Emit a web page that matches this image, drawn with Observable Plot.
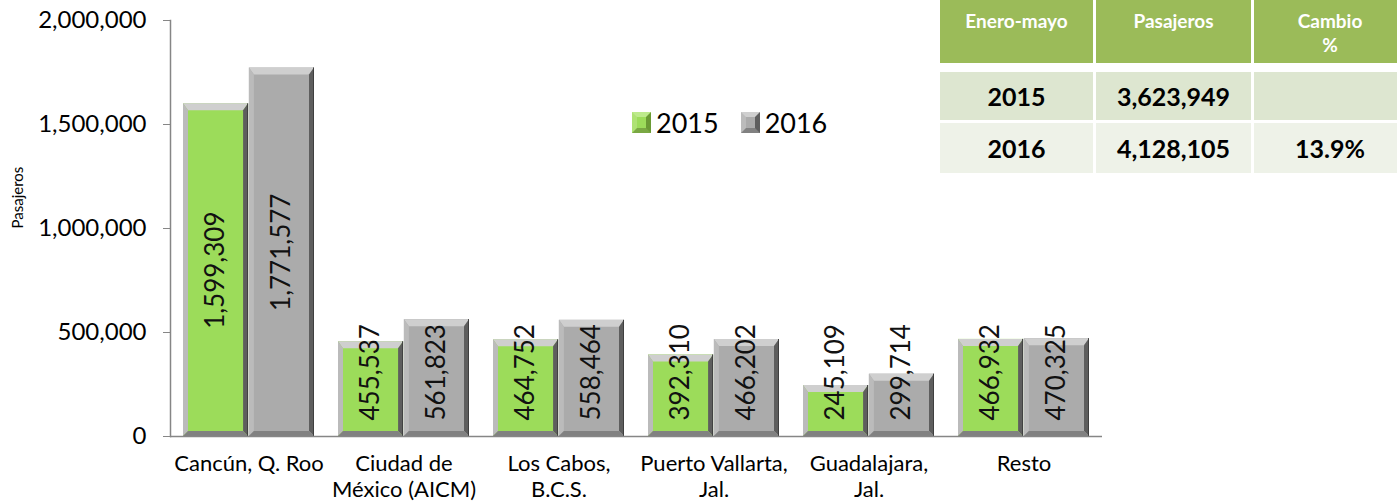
<!DOCTYPE html>
<html>
<head>
<meta charset="utf-8">
<script src="https://cdn.jsdelivr.net/npm/d3@7"></script>
<script src="https://cdn.jsdelivr.net/npm/@observablehq/plot@0.6"></script>
<style>
  html, body { margin: 0; padding: 0; background: #fff; }
  body { width: 1397px; height: 504px; overflow: hidden; font-family: Lato, "Open Sans", sans-serif; }
  #wrap { position: relative; width: 1397px; height: 504px; }
  #legend { position: absolute; left: 632px; top: 106px; display: flex; align-items: center; font-size: 27px; color: #000; }
  #legend .item { display: flex; align-items: center; margin-right: 22px; }
  #legend .sw { box-sizing: border-box; width: 19px; height: 21px; border-style: solid; border-width: 5px 5px 5px 5px; margin-right: 5px; }
  #table { position: absolute; left: 940px; top: 0px; display: grid; grid-template-columns: 153px 155px 152px; column-gap: 3px; font-family: Lato, sans-serif; font-weight: bold; }
  #table .h { background: #9BBB59; color: #fff; height: 63px; font-size: 19px; text-align: center; box-sizing: border-box; padding-top: 9px; line-height: 24px; }
  #table .c { font-size: 25px; color: #000; text-align: center; display: flex; align-items: center; justify-content: center; }
  #table .r1 { background: #DDE6D0; height: 48px; margin-top: 9px; }
  #table .r2 { background: #EEF2E8; height: 50px; margin-top: 3px; }
</style>
</head>
<body>
<div id="wrap"></div>
<script>
// ---- data ----
const categories = ["Cancún, Q. Roo", "Ciudad de México (AICM)", "Los Cabos, B.C.S.", "Puerto Vallarta, Jal.", "Guadalajara, Jal.", "Resto"];
const categoryLabels = ["Cancún, Q. Roo", "Ciudad de\nMéxico (AICM)", "Los Cabos,\nB.C.S.", "Puerto Vallarta,\nJal.", "Guadalajara,\nJal.", "Resto"];
const seriesNames = ["2015", "2016"];
const values2015 = [1599309, 455537, 464752, 392310, 245109, 466932];
const values2016 = [1771577, 561823, 558464, 466202, 299714, 470325];
const yTicks = [0, 500000, 1000000, 1500000, 2000000];
const yTitle = "Pasajeros";
const tableHeaders = ["Enero-mayo", "Pasajeros", "Cambio\n%"];
const tableYears = ["2015", "2016"];
const tablePasajeros = ["3,623,949", "4,128,105"];
const tableCambio = ["", "13.9%"];

// ---- styles ----
const green = {face: "#9CDC5A", top: "#BDEA8C", left: "#AEE274", right: "#6A9A34", bottom: "#7AA843", edge: "#4F7424"};
const gray  = {face: "#ABABAB", top: "#CFCFCF", left: "#BBBBBB", right: "#5E5E5E", bottom: "#818181", edge: "#3F3F3F"};

const rows2015 = categories.map((c, i) => ({cat: c, v: values2015[i]}));
const rows2016 = categories.map((c, i) => ({cat: c, v: values2016[i]}));
const labelMap = new Map(categories.map((c, i) => [c, categoryLabels[i]]));

const W = 1397, H = 504, mL = 170, mR = 295, mT = 20, mB = 68;
const xOpts = {type: "band", domain: categories, paddingInner: 0.155, paddingOuter: 0.065};
const bw = Plot.scale({x: {...xOpts, range: [mL, W - mR]}}).bandwidth;
const half = bw / 2;

const bigCut = 1000000; // labels centered in tall bars, otherwise placed at base
const fmt = d3.format(",");

const plot = Plot.plot({
  width: W, height: H,
  marginLeft: mL, marginRight: mR, marginTop: mT, marginBottom: mB,
  style: {fontFamily: "Lato, 'Open Sans', sans-serif", color: "#000", background: "#fff"},
  x: {...xOpts, axis: null},
  y: {domain: [0, 2000000], axis: null},
  marks: [
    Plot.barY(rows2015, {x: "cat", y: "v", fill: green.face, insetLeft: 0, insetRight: half}),
    Plot.barY(rows2016, {x: "cat", y: "v", fill: gray.face, insetLeft: half, insetRight: 0}),
    Plot.ruleY([0], {stroke: "#868686", strokeWidth: 1.5}),
    Plot.frame({anchor: "left", stroke: "#868686", strokeWidth: 1.5}),
    Plot.axisY({ticks: yTicks, tickFormat: fmt, tickSize: 7, tickPadding: 17, fontSize: 24, label: null, stroke: "#868686"}),
    Plot.axisX({tickSize: 0, tickPadding: 16, fontSize: 22, lineHeight: 1.18, label: null, tickFormat: d => labelMap.get(d)}),
    Plot.text([yTitle], {frameAnchor: "left", dx: -152, rotate: -90, fontSize: 15, fill: "#000"}),
    // data labels: centered for tall bars
    Plot.text(rows2015.filter(d => d.v > bigCut), {x: "cat", y: d => d.v / 2, text: d => fmt(d.v), rotate: -90, dx: -half / 2, fontSize: 26, fill: "#111"}),
    Plot.text(rows2016.filter(d => d.v > bigCut), {x: "cat", y: d => d.v / 2, text: d => fmt(d.v), rotate: -90, dx: half / 2, fontSize: 26, fill: "#111"}),
    // data labels at base for short bars
    Plot.text(rows2015.filter(d => d.v <= bigCut), {x: "cat", y: 0, text: d => fmt(d.v), rotate: -90, textAnchor: "start", dy: -16, dx: -half / 2, fontSize: 26, fill: "#111"}),
    Plot.text(rows2016.filter(d => d.v <= bigCut), {x: "cat", y: 0, text: d => fmt(d.v), rotate: -90, textAnchor: "start", dy: -16, dx: half / 2, fontSize: 26, fill: "#111"})
  ]
});

// bevel effect on bars (reads the rect geometry produced by Plot)
d3.select(plot).selectAll('g[aria-label="bar"] rect').each(function () {
  const r = d3.select(this);
  const x = +r.attr("x"), y = +r.attr("y"), w = +r.attr("width"), h = +r.attr("height");
  const fill = (r.attr("fill") || "").toUpperCase();
  const pal = fill === green.face.toUpperCase() ? green : gray;
  const bt = Math.min(7, h / 2), bs = Math.min(5, w / 2), bb = Math.min(5, h / 2);
  const p = d3.select(this.parentNode);
  const poly = (pts, c) => p.append("polygon").attr("points", pts.map(q => q.join(",")).join(" ")).attr("fill", c);
  poly([[x, y], [x + w, y], [x + w - bs, y + bt], [x + bs, y + bt]], pal.top);
  poly([[x, y], [x + bs, y + bt], [x + bs, y + h - bb], [x, y + h]], pal.left);
  poly([[x + w, y], [x + w, y + h], [x + w - bs, y + h - bb], [x + w - bs, y + bt]], pal.right);
  poly([[x, y + h], [x + bs, y + h - bb], [x + w - bs, y + h - bb], [x + w, y + h]], pal.bottom);
  p.append("line").attr("x1", x + w - 0.5).attr("x2", x + w - 0.5).attr("y1", y).attr("y2", y + h)
    .attr("stroke", pal.edge).attr("stroke-width", 1);
});

const wrap = document.getElementById("wrap");
wrap.appendChild(plot);

// legend
const legend = document.createElement("div");
legend.id = "legend";
[green, gray].forEach((pal, i) => {
  const item = document.createElement("div");
  item.className = "item";
  const sw = document.createElement("div");
  sw.className = "sw";
  sw.style.background = pal.face;
  sw.style.borderColor = `${pal.top} ${pal.right} ${pal.bottom} ${pal.left}`;
  const t = document.createElement("span");
  t.textContent = seriesNames[i];
  item.appendChild(sw); item.appendChild(t);
  legend.appendChild(item);
});
wrap.appendChild(legend);

// summary table
const table = document.createElement("div");
table.id = "table";
tableHeaders.forEach(h => {
  const d = document.createElement("div");
  d.className = "h";
  d.innerHTML = h.split("\n").join("<br>");
  table.appendChild(d);
});
tableYears.forEach((yr, i) => {
  [yr, tablePasajeros[i], tableCambio[i]].forEach(v => {
    const d = document.createElement("div");
    d.className = "c " + (i === 0 ? "r1" : "r2");
    d.textContent = v;
    table.appendChild(d);
  });
});
wrap.appendChild(table);
</script>
</body>
</html>
